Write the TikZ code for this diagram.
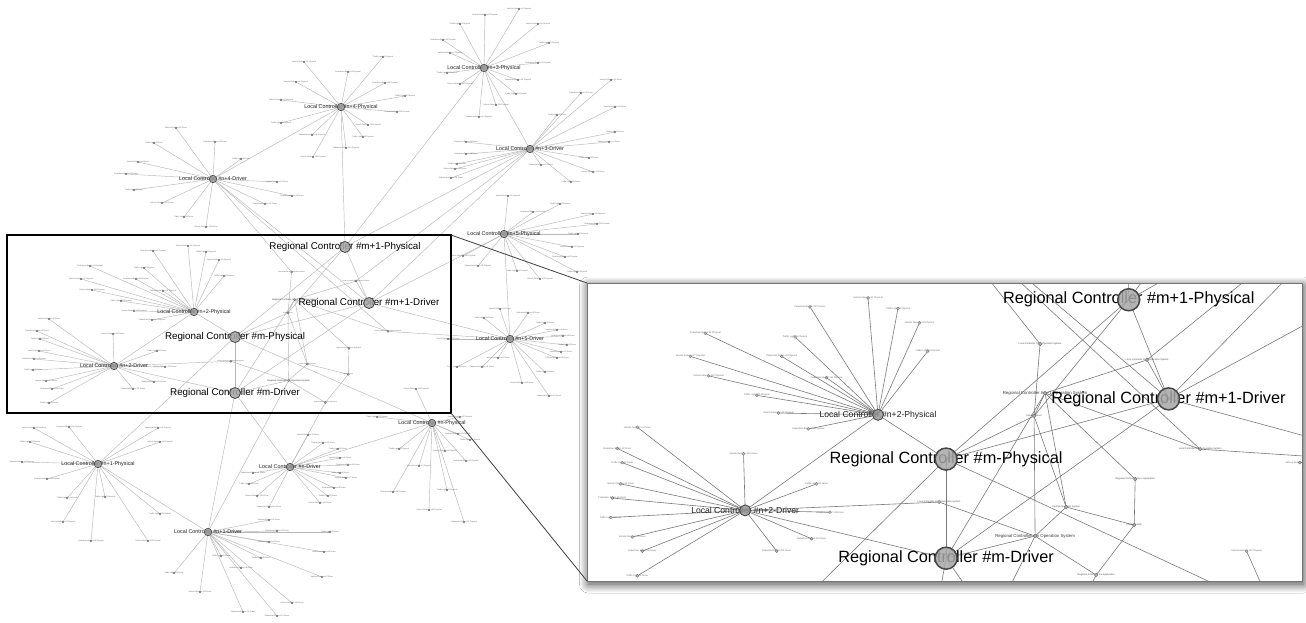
\documentclass[tikz,border=0pt]{standalone}
\usepackage{fontspec}
\setmainfont{Liberation Sans}
\usetikzlibrary{shadows.blur}

\newcommand\fsz[1]{\fontsize{#1}{#1}\selectfont}
\newcommand\leafname[1]{\ifcase#1 Traffic Light\or Vehicle Detector\or Pedestrian Button\fi}

% leaf offsets of every local controller (dx/dy, pt)
\newcommand\Lfourp{-37/-45,7/-35,42/-50,-45/-25,44/-24,64/-11,-60/-7,56/5,-60/16,27/18,-29/28,22/30,-28/50,5/41}
\newcommand\Lthreep{35/-59,1/-53,-24/-44,54/-44,-41/-28,65/-25,-34/-15,54/-5,-37/5,-24/16,34/12,32/26,12/37,-5/49}
\newcommand\Lthreed{81/-69,51/-56,27/-34,85/-42,-64/-7,85/-17,79/-7,-64/5,-73/15,-75/20,-79/29,59/9,63/23,11/16,41/33}
\newcommand\Lfourd{-37/-51,2/-37,-59/-36,-75/-17,-87/-5,28/-20,64/3,79/17,-79/11,-51/24,52/25,-29/38,-7/48}
\newcommand\Lfivep{4/-38,29/-22,56/-30,89/-20,93/-10,74/0,68/13,61/23,73/38,-41/22,-26/32,13/37,36/45}
\newcommand\Lfived{-10/-30,18/-26,35/-16,47/-9,53/-3,57/6,51/13,47/19,35/33,-12/19,-28/28,-53/28,12/44,39/57,-26/-21,-62/0}
\newcommand\Ltwop{-6/-66,-41/-61,12/-60,25/-52,-104/-46,-50/-44,-113/-33,-58/-33,30/-36,-102/-22,-31/-21,-73/-11,-60/-1,-42/8}
\newcommand\Ltwod{-65/-47,-77/-35,-74/-27,-75/-15,-80/-7,-81/4,-68/15,-62/23,-65/37,-1/-32,19/23,43/-15,51/1,40/16}
\newcommand\Lzerop{28/-6,26/11,38/17,13/28,34/38,-33/26,-13/43,-39/69,15/67,-3/87,32/99,-55/-6,-16/-34}
\newcommand\Lzerod{18/-32,33/-24,48/-18,50/-9,58/-2,50/6,56/11,44/21,38/29,30/36,-37/6,-41/17,-33/29,-21/40}
\newcommand\Lonep{-64/-36,-29/-37,-68/-22,-76/-2,-51/15,-31/34,-35/58,-7/77,7/33,62/-22,60/-36,62/50,50/77}
\newcommand\Loned{61/-12,69/-1,122/0,61/10,116/20,53/26,114/45,33/36,13/24,84/71,35/80,-34/41,-8/60,69/84}

\tikzset{
  edge/.style={draw=\edgecol, line width=\edgew},
  rcdot/.style={circle, draw=black!72, fill=black!34, fill opacity=0.85, line width=\rcw, minimum size=\rcd, inner sep=0pt},
  lcdot/.style={circle, draw=black!70, fill=black!40, fill opacity=0.85, line width=\lcw, minimum size=\lcd, inner sep=0pt},
  middot/.style={circle, draw=black!62, fill=black!30, line width=0.3pt, minimum size=\midd, inner sep=0pt},
  osdot/.style={middot},
  leafdot/.style={circle, draw=black!60, fill=black!28, line width=0.25pt, minimum size=\leafd, inner sep=0pt},
  rclbl/.style={font=\fsz{\rcfs}, text=black, inner sep=0pt},
  lclbl/.style={font=\fsz{\lcfs}, text=black!88, inner sep=0pt},
  midlbl/.style={font=\fsz{\midfs}, text=black!70, inner sep=0pt},
  oslbl/.style={font=\fsz{\osfs}, text=black!78, inner sep=0pt},
  leaflbl/.style={font=\fsz{\leaffs}, text=black!60, inner sep=0pt},
}

% a hub position: name, x, y
\newcommand\defhub[3]{%
  \coordinate (\gp#1) at (#2,#3);
  \expandafter\def\csname hx#1\endcsname{#2}%
  \expandafter\def\csname hy#1\endcsname{#3}}
% 1 when (x,y) lies in the current window
\newcommand\inwindow[2]{%
  \pgfmathtruncatemacro\shw{and(and((#1)>\wxa,(#1)<\wxb),and((#2)>\wya,(#2)<\wyb))}}
% leaf edges of one local controller: hub, offsets
\newcommand\starlinks[2]{%
  \foreach \dx/\dy [count=\k] in #2 {
    \coordinate (\gp#1-\k) at ({\csname hx#1\endcsname+\dx},{\csname hy#1\endcsname+\dy});
    \draw[edge] (\gp#1) -- (\gp#1-\k);
  }}
% leaf labels and dots: hub, offsets, suffix
\newcommand\starleaves[3]{%
  \foreach \dx/\dy [count=\k] in #2 {
    \inwindow{\csname hx#1\endcsname+(\dx)}{\csname hy#1\endcsname+(\dy)}
    \ifnum\shw=1
      \pgfmathtruncatemacro\lt{mod(\k,3)}
      \node[leaflbl] (\gp#1-\k t) at (\gp#1-\k) {\leafname{\lt} \#\k\ #3};
      \node[leafdot] (\gp#1-\k d) at (\gp#1-\k) {};
    \fi
  }}
% label and dot of a hub: name, kind, text
\newcommand\hubnode[3]{%
  \inwindow{\csname hx#1\endcsname}{\csname hy#1\endcsname}%
  \ifnum\shw=1
    \node[#2lbl] (\gp#1-t) at (\gp#1) {#3};
    \node[#2dot] (\gp#1-d) at (\gp#1) {};
  \fi}

\newcommand\drawgraph{%
  % regional controllers
  \defhub{rcmpa}{345}{247}
  \defhub{rcmda}{369}{303}
  \defhub{rcmp}{235}{337}
  \defhub{rcmd}{235}{393}
  % local controllers
  \defhub{l4p}{341}{107}
  \defhub{l3p}{484}{68}
  \defhub{l4d}{213}{179}
  \defhub{l3d}{530}{149}
  \defhub{l5p}{504}{234}
  \defhub{l5d}{510}{339}
  \defhub{l2p}{194}{312}
  \defhub{l2d}{114}{366}
  \defhub{l0p}{432}{423}
  \defhub{l0d}{290}{467}
  \defhub{l1p}{98}{464}
  \defhub{l1d}{208}{532}
  % systems
  \defhub{osa}{291.6}{272}
  \defhub{osb}{356}{281}
  \defhub{rcos1}{294.6}{299.7}
  \defhub{srv}{288}{312.7}
  \defhub{os5}{388}{331.4}
  \defhub{app1}{348.9}{348.3}
  \defhub{os2}{230.8}{361.3}
  \defhub{cos}{307.3}{364.1}
  \defhub{ctr}{348.3}{374.3}
  \defhub{rcos}{288.6}{380.5}
  \defhub{app}{325.4}{402.5}
  % leaf edges
  \starlinks{l4p}{\Lfourp}
  \starlinks{l3p}{\Lthreep}
  \starlinks{l4d}{\Lfourd}
  \starlinks{l3d}{\Lthreed}
  \starlinks{l5p}{\Lfivep}
  \starlinks{l5d}{\Lfived}
  \starlinks{l2p}{\Ltwop}
  \starlinks{l2d}{\Ltwod}
  \starlinks{l0p}{\Lzerop}
  \starlinks{l0d}{\Lzerod}
  \starlinks{l1p}{\Lonep}
  \starlinks{l1d}{\Loned}
  % links between controllers and systems
  \foreach \a/\b in {rcmpa/l3p, rcmpa/l4p, rcmpa/rcmda, rcmpa/rcmp, rcmpa/l3d, rcmpa/srv,
      rcmda/l3d, rcmda/l4d, rcmda/l5d, rcmda/l5p, rcmda/rcmd, rcmda/rcmp, rcmda/osb,
      rcmp/l2p, rcmp/l1p, rcmp/l0p, rcmp/rcmd, rcmp/srv,
      rcmd/l2d, rcmd/l1d, rcmd/l0d, rcmd/rcos, rcmd/rcos1,
      l4p/l4d, l3p/l3d, l5p/l5d, l2p/l2d, l1p/l1d, l0p/l0d,
      l4d/osa, l3d/osb, l4d/os5,
      osa/srv, osb/rcos1, rcos1/srv, rcos1/app1, rcos1/os5, rcos1/cos, os5/l5d,
      app1/ctr, ctr/cos, ctr/app, os2/l2d, os2/rcos, cos/srv, cos/rcos,
      rcos/app, rcos/srv, app/l0d, l1d/rcos}
    {\draw[edge] (\gp\a) -- (\gp\b);}
  % leaves
  \starleaves{l4p}{\Lfourp}{Physical}
  \starleaves{l3p}{\Lthreep}{Physical}
  \starleaves{l4d}{\Lfourd}{Driver}
  \starleaves{l3d}{\Lthreed}{Driver}
  \starleaves{l5p}{\Lfivep}{Physical}
  \starleaves{l5d}{\Lfived}{Driver}
  \starleaves{l2p}{\Ltwop}{Physical}
  \starleaves{l2d}{\Ltwod}{Driver}
  \starleaves{l0p}{\Lzerop}{Physical}
  \starleaves{l0d}{\Lzerod}{Driver}
  \starleaves{l1p}{\Lonep}{Physical}
  \starleaves{l1d}{\Loned}{Driver}
  % systems
  \hubnode{osa}{mid}{Local Controller \#n+3 Operation System}
  \hubnode{osb}{mid}{Local Controller \#n+4 Operation System}
  \hubnode{srv}{mid}{Central Server}
  \hubnode{os5}{mid}{Local Controller \#n+5 Operation System}
  \hubnode{app1}{mid}{Regional Controller \#m+1 Application}
  \hubnode{os2}{mid}{Local Controller \#n+2 Operation System}
  \hubnode{cos}{mid}{Central Operation System}
  \hubnode{ctr}{mid}{Control Center}
  \hubnode{app}{mid}{Regional Controller \#m Application}
  \hubnode{rcos1}{os}{Regional Controller \#m+1 Operation System}
  \hubnode{rcos}{os}{Regional Controller \#m Operation System}
  % local controllers
  \hubnode{l4p}{lc}{Local Controller \#n+4-Physical}
  \hubnode{l3p}{lc}{Local Controller \#n+3-Physical}
  \hubnode{l4d}{lc}{Local Controller \#n+4-Driver}
  \hubnode{l3d}{lc}{Local Controller \#n+3-Driver}
  \hubnode{l5p}{lc}{Local Controller \#n+5-Physical}
  \hubnode{l5d}{lc}{Local Controller \#n+5-Driver}
  \hubnode{l2p}{lc}{Local Controller \#n+2-Physical}
  \hubnode{l2d}{lc}{Local Controller \#n+2-Driver}
  \hubnode{l0p}{lc}{Local Controller \#n-Physical}
  \hubnode{l0d}{lc}{Local Controller \#n-Driver}
  \hubnode{l1p}{lc}{Local Controller \#n+1-Physical}
  \hubnode{l1d}{lc}{Local Controller \#n+1-Driver}
  % regional controllers
  \hubnode{rcmpa}{rc}{Regional Controller \#m+1-Physical}
  \hubnode{rcmda}{rc}{Regional Controller \#m+1-Driver}
  \hubnode{rcmp}{rc}{Regional Controller \#m-Physical}
  \hubnode{rcmd}{rc}{Regional Controller \#m-Driver}
}

\begin{document}
\begin{tikzpicture}[x=1pt,y=-1pt]
  \useasboundingbox (0,0) rectangle (1306,622);
  \fill[white] (0,0) rectangle (1306,622);

  % overview of the whole network
  \begin{scope}
    \def\gp{m}
    \def\wxa{-9999}\def\wxb{9999}\def\wya{-9999}\def\wyb{9999}
    \def\edgecol{black!28}\def\edgew{0.45pt}
    \def\rcd{11pt}\def\rcw{0.8pt}\def\lcd{7.5pt}\def\lcw{0.6pt}
    \def\midd{2.2pt}\def\leafd{1.8pt}
    \def\rcfs{9.8}\def\lcfs{5.4}\def\midfs{1.5}\def\osfs{2.3}\def\leaffs{1.9}
    \drawgraph
  \end{scope}

  % frame of the enlarged region and the enlarged view
  \coordinate (frtl) at (7,235);
  \coordinate (frbr) at (451,413);
  \coordinate (frtr) at (451,235);
  \coordinate (inbl) at (587,581);
  \coordinate (intl) at (587,283);
  \coordinate (inbr) at (1302,581);

  \fill[white, blur shadow={shadow xshift=1.5pt, shadow yshift=-3pt,
        shadow blur radius=9pt, shadow blur steps=30, shadow opacity=75}] (intl) rectangle (inbr);

  \begin{scope}
    \clip (intl) rectangle (inbr);
    \begin{scope}[shift={(946,459)}, xscale=1.66, yscale=1.77, shift={(-235,-337)}]
      \def\gp{z}
      \def\wxa{8}\def\wxb{460}\def\wya{228}\def\wyb{414}
      \def\edgecol{black!52}\def\edgew{0.6pt}
      \def\rcd{22pt}\def\rcw{1.5pt}\def\lcd{11pt}\def\lcw{0.9pt}
      \def\midd{3.5pt}\def\leafd{3pt}
      \def\rcfs{16.3}\def\lcfs{8.6}\def\midfs{2.4}\def\osfs{4.3}\def\leaffs{2.3}
      \drawgraph
    \end{scope}
  \end{scope}
  \draw[black!55, line width=0.5pt] (intl) rectangle (inbr);

  \draw[line width=1.8pt] (frtl) rectangle (frbr);
  \draw[black!75, line width=0.8pt] (frtr) -- (intl);
  \draw[black!75, line width=0.8pt] (frbr) -- (inbl);
\end{tikzpicture}
\end{document}
